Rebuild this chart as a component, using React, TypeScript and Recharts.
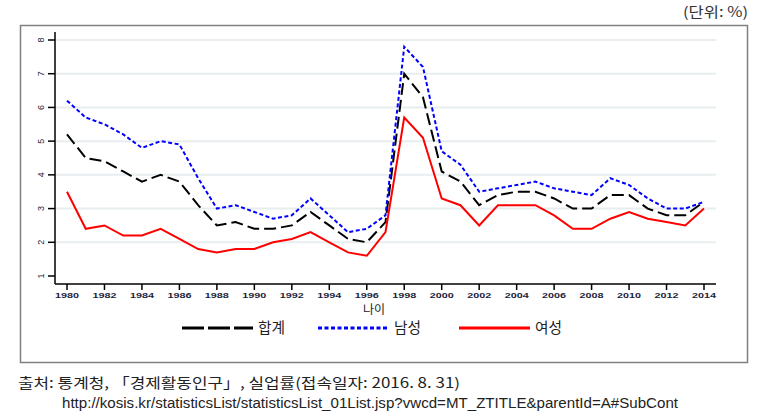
import { LineChart, Line, XAxis, YAxis, ReferenceLine } from "recharts"

// 연도별 실업률 (%)
const years = [
  1980, 1981, 1982, 1983, 1984, 1985, 1986, 1987, 1988, 1989,
  1990, 1991, 1992, 1993, 1994, 1995, 1996, 1997, 1998, 1999,
  2000, 2001, 2002, 2003, 2004, 2005, 2006, 2007, 2008, 2009,
  2010, 2011, 2012, 2013, 2014,
]
const total = [
  5.2, 4.5, 4.4, 4.1, 3.8, 4.0, 3.8, 3.1, 2.5, 2.6,
  2.4, 2.4, 2.5, 2.9, 2.5, 2.1, 2.0, 2.6, 7.0, 6.3,
  4.1, 3.8, 3.1, 3.4, 3.5, 3.5, 3.3, 3.0, 3.0, 3.4,
  3.4, 3.0, 2.8, 2.8, 3.2,
]
const male = [
  6.2, 5.7, 5.5, 5.2, 4.8, 5.0, 4.9, 3.9, 3.0, 3.1,
  2.9, 2.7, 2.8, 3.3, 2.8, 2.3, 2.4, 2.8, 7.8, 7.2,
  4.7, 4.3, 3.5, 3.6, 3.7, 3.8, 3.6, 3.5, 3.4, 3.9,
  3.7, 3.3, 3.0, 3.0, 3.2,
]
const female = [
  3.5, 2.4, 2.5, 2.2, 2.2, 2.4, 2.1, 1.8, 1.7, 1.8,
  1.8, 2.0, 2.1, 2.3, 2.0, 1.7, 1.6, 2.3, 5.7, 5.1,
  3.3, 3.1, 2.5, 3.1, 3.1, 3.1, 2.8, 2.4, 2.4, 2.7,
  2.9, 2.7, 2.6, 2.5, 3.0,
]

const xTicks = [1980, 1982, 1984, 1986, 1988, 1990, 1992, 1994, 1996, 1998, 2000, 2002, 2004, 2006, 2008, 2010, 2012, 2014]
const yTicks = [1, 2, 3, 4, 5, 6, 7, 8]
const gridValues = [2, 3, 4, 5, 6, 7, 8]

const seriesNames = ["합계", "남성", "여성"]

const data = years.map((year, i) => ({ year, total: total[i], male: male[i], female: female[i] }))

const series = [
  { key: "total", name: seriesNames[0], color: "#000000", dash: "12 5", legendDash: "22 4" },
  { key: "male", name: seriesNames[1], color: "#0000ff", dash: "4 2.5", legendDash: "4 2.5" },
  { key: "female", name: seriesNames[2], color: "#ff0000", dash: undefined, legendDash: undefined },
]

const KR = "'Noto Sans CJK KR', 'Noto Sans', sans-serif"

function XTick(props: any) {
  const { x, y, payload } = props
  return (
    <text
      x={x}
      y={y + 6}
      textAnchor="middle"
      fontSize={7.5}
      fontWeight="bold"
      fontFamily="'Liberation Sans', Arial, sans-serif"
      fill="#1e1e3c"
      textLength={24}
      lengthAdjust="spacingAndGlyphs"
    >
      {payload.value}
    </text>
  )
}

function YTick(props: any) {
  const { x, y, payload } = props
  const tx = x - 2
  return (
    <text
      x={tx}
      y={y}
      transform={`rotate(-90, ${tx}, ${y})`}
      textAnchor="middle"
      fontSize={9}
      fontFamily="'Liberation Sans', Arial, sans-serif"
      fill="#1e1e3c"
    >
      {payload.value}
    </text>
  )
}

function LegendRow() {
  const pos = [182, 318, 459]
  return (
    <svg width={770} height={24} style={{ position: "absolute", left: 0, top: 316 }}>
      {series.map((s, i) => (
        <g key={s.key}>
          <line
            x1={pos[i]}
            x2={pos[i] + 71}
            y1={12}
            y2={12}
            stroke={s.color}
            strokeWidth={3}
            strokeDasharray={s.legendDash}
          />
          <text x={pos[i] + 76} y={17} fontSize={15} fontFamily={KR} fill="#222" textLength={27} lengthAdjust="spacingAndGlyphs">
            {s.name}
          </text>
        </g>
      ))}
    </svg>
  )
}

export default function App() {
  return (
    <div style={{ position: "absolute", left: 0, top: 0, width: 770, height: 418, background: "#fff" }}>
      <svg width={770} height={418} style={{ position: "absolute", left: 0, top: 0 }}>
        <text x={683} y={17} fontSize={14} fontFamily={KR} fill="#333" textLength={65} lengthAdjust="spacingAndGlyphs">
          (단위: %)
        </text>
        <rect x={20.5} y={25.5} width={727} height={337} fill="none" stroke="#808080" strokeWidth={1.5} />
        <text x={18} y={388} fontSize={14} fontFamily={KR} fill="#222" textLength={442} lengthAdjust="spacingAndGlyphs">
          출처: 통계청, 「경제활동인구」, 실업률(접속일자: 2016. 8. 31)
        </text>
        <text x={62} y={408} fontSize={14} fontFamily="'Liberation Sans', Arial, sans-serif" fill="#222" textLength={616} lengthAdjust="spacingAndGlyphs">
          http://kosis.kr/statisticsList/statisticsList_01List.jsp?vwcd=MT_ZTITLE&amp;parentId=A#SubCont
        </text>
        <text x={374} y={314} textAnchor="middle" fontSize={12} fontFamily={KR} fill="#222">
          나이
        </text>
      </svg>
      <div style={{ position: "absolute", left: 0, top: 0 }}>
        <LineChart width={770} height={310} data={data} margin={{ top: 32, right: 54, bottom: 6, left: 20 }}>
          {gridValues.map((v) => (
            <ReferenceLine key={v} y={v} stroke="#e8eef0" strokeWidth={2} ifOverflow="extendDomain" />
          ))}
          <XAxis
            dataKey="year"
            type="number"
            domain={[1980, 2014]}
            ticks={xTicks}
            padding={{ left: 12, right: 12 }}
            height={20}
            tickSize={6}
            tickMargin={2}
            stroke="#000"
            strokeWidth={1.5}
            tick={<XTick />}
            interval={0}
          />
          <YAxis
            type="number"
            domain={[1, 8]}
            ticks={yTicks}
            padding={{ top: 8, bottom: 8 }}
            width={35}
            tickSize={7}
            tickMargin={2}
            stroke="#000"
            strokeWidth={1.5}
            tick={<YTick />}
            interval={0}
          />
          {series.map((s) => (
            <Line
              key={s.key}
              type="linear"
              dataKey={s.key}
              name={s.name}
              stroke={s.color}
              strokeWidth={2}
              strokeDasharray={s.dash}
              dot={false}
              activeDot={false}
              isAnimationActive={false}
            />
          ))}
        </LineChart>
      </div>
      <LegendRow />
    </div>
  )
}
